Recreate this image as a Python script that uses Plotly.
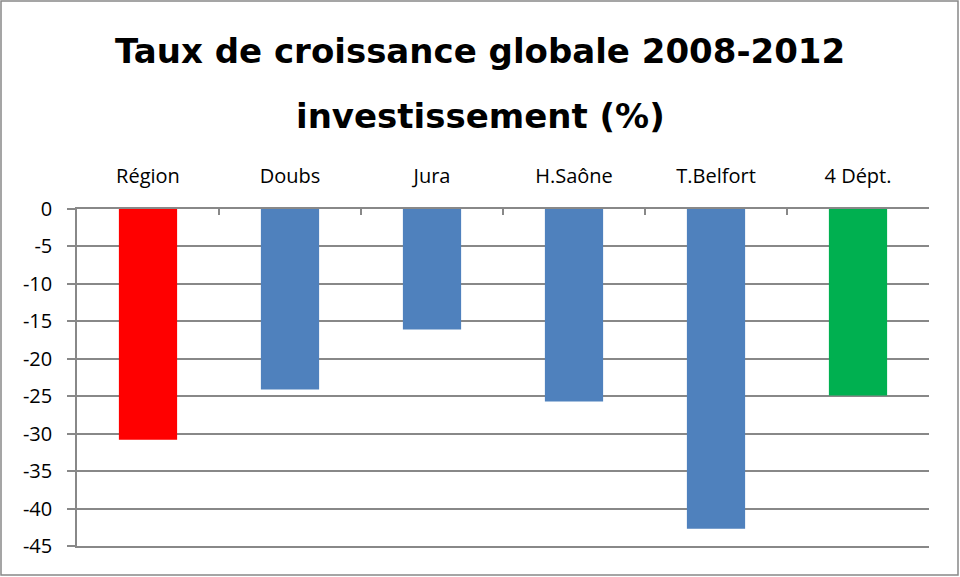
import plotly.graph_objects as go

categories = ["Région", "Doubs", "Jura", "H.Saône", "T.Belfort", "4 Dépt."]
values = [-30.8, -24.1, -16.1, -25.7, -42.7, -24.9]
bar_colors = ["#FF0000", "#4F81BD", "#4F81BD", "#4F81BD", "#4F81BD", "#00B050"]
y_ticks = list(range(0, -50, -5))
title_lines = ["Taux de croissance globale 2008-2012", "investissement (%)"]

W, H = 960, 577
L, R, T, B = 77, 31, 209, 31
pw, ph = W - L - R, H - T - B


def py(pix):
    return (H - B - pix) / ph


def px(pix):
    return (pix - L) / pw


fig = go.Figure(go.Bar(
    x=categories, y=values,
    marker=dict(color=bar_colors, line=dict(width=0)),
    width=0.41,
))

font_fam = "Open Sans, Liberation Sans, sans-serif"
title_font = dict(family="DejaVu Sans, sans-serif", size=34, color="black")
fig.update_layout(
    width=W, height=H,
    margin=dict(l=L, r=R, t=T, b=B),
    paper_bgcolor="white", plot_bgcolor="white",
    showlegend=False,
    font=dict(family=font_fam, size=20, color="black"),
    xaxis=dict(
        type="category", side="top",
        showline=True, mirror=True, linecolor="#888888", linewidth=1.5,
        ticks="inside", tickson="boundaries", ticklen=6, tickcolor="#888888", tickwidth=1.5,
        showgrid=False, ticklabelstandoff=16,
        tickfont=dict(family=font_fam, size=20),
    ),
    yaxis=dict(
        range=[-45, 0], tickvals=y_ticks, ticktext=[str(v) for v in y_ticks],
        showline=True, linecolor="#888888", linewidth=1.5,
        ticks="outside", ticklen=8, tickcolor="#888888", tickwidth=1.5,
        showgrid=True, gridcolor="#888888", gridwidth=1.5,
        zeroline=False, ticklabelstandoff=11,
        tickfont=dict(family=font_fam, size=20),
    ),
    annotations=[
        dict(text="<b>%s</b>" % title_lines[0], xref="paper", yref="paper",
             x=px(480), y=py(51), xanchor="center", yanchor="middle",
             showarrow=False, font=title_font),
        dict(text="<b>%s</b>" % title_lines[1], xref="paper", yref="paper",
             x=px(480), y=py(116), xanchor="center", yanchor="middle",
             showarrow=False, font=title_font),
    ],
    shapes=[dict(
        type="rect", xref="paper", yref="paper",
        x0=px(1), x1=px(958), y0=py(575), y1=py(1),
        line=dict(color="#888888", width=1.5), fillcolor="rgba(0,0,0,0)",
        layer="below",
    )],
)

fig.write_html(
    "out.html",
    config={"displayModeBar": False},
    post_script="document.body.style.margin='0';document.body.style.overflow='hidden';",
)
